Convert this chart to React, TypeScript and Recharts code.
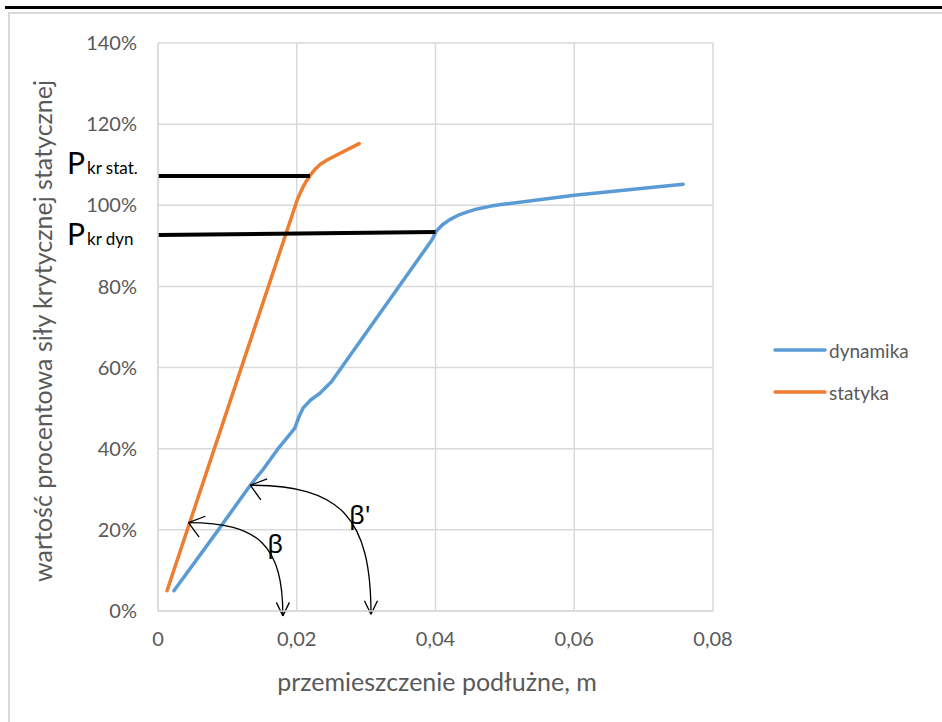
import {
  CartesianGrid,
  Label,
  Legend,
  Line,
  LineChart,
  ReferenceDot,
  ReferenceLine,
  XAxis,
  YAxis,
} from 'recharts'

// przemieszczenie [m] / wartość procentowa [%]
const dynamikaX = [
  0.0023, 0.0087, 0.0133, 0.0152, 0.0173, 0.0185, 0.0197, 0.0203, 0.0209, 0.022, 0.0233, 0.025,
  0.0395, 0.0401, 0.041, 0.042, 0.0432, 0.0445, 0.046, 0.048, 0.05, 0.06, 0.0757,
]
const dynamikaY = [
  5, 20, 31, 35, 40, 42.5, 45, 47.8, 50, 52, 53.6, 56.5,
  91.5, 93.6, 95.2, 96.4, 97.5, 98.3, 99.1, 99.8, 100.3, 102.5, 105.2,
]

const statykaX = [0.0013, 0.0201, 0.0205, 0.0209, 0.0214, 0.0219, 0.0226, 0.0234, 0.0245, 0.029]
const statykaY = [5, 101.5, 103, 104.5, 106, 107.3, 108.8, 110.1, 111.3, 115.2]

const xTicks = [0, 0.02, 0.04, 0.06, 0.08]
const yTicks = [0, 20, 40, 60, 80, 100, 120, 140]

const seriesNames = ['dynamika', 'statyka']
const seriesColors = ['#5B9BD5', '#ED7D31']

// poziome linie P_kr: [x0, y0, x1, y1]
const critLabels = ['kr stat.', 'kr dyn']
const critSegments = [
  [0, 107.2, 0.0219, 107.2],
  [0, 92.7, 0.04, 93.4],
]
const critTextDy = [-2, 10]

// łuki kątów: start (na krzywej) -> koniec (na osi x)
const arcSegments = [
  [0.0044, 21.8, 0.018, -1.2],
  [0.0133, 31, 0.0307, -0.8],
]
const angleLabels = ['β', "β'"]
const angleLabelX = [0.0169, 0.0291]
const angleLabelY = [16.8, 23.9]

const dynamikaData = dynamikaX.map((x, i) => ({ x, y: dynamikaY[i] }))
const statykaData = statykaX.map((x, i) => ({ x, y: statykaY[i] }))
const seriesData = [dynamikaData, statykaData]

const FONT = 'Lato, "Noto Sans", sans-serif'
const GREY = '#595959'

const formatX = (v: number) => (v === 0 ? '0' : v.toFixed(2).replace('.', ','))

const critShape = (sub: string, dy: number) => (p: any) => (
  <g>
    <line x1={p.x1} y1={p.y1} x2={p.x2} y2={p.y2} stroke="#000" strokeWidth={4} />
    <text x={p.x1 - 91} y={p.y1 + dy} fontFamily={FONT} fill="#000">
      <tspan fontSize={30}>P</tspan>
      <tspan fontSize={17} dx={2}>{sub}</tspan>
    </text>
  </g>
)

const arm = (x: number, y: number, ang: number, len: number) =>
  `M${x},${y} L${x + len * Math.cos(ang)},${y + len * Math.sin(ang)}`

const arcShape = (p: any) => {
  const { x1, y1, x2, y2 } = p
  const rx = x2 - x1
  const ry = y2 - y1
  const k = 0.75
  const d = `M${x1},${y1} C${x1 + k * rx},${y1} ${x2},${y2 - k * ry} ${x2},${y2}`
  const a0 = Math.atan2(0.3, 1)
  const a1 = -Math.PI / 2
  const heads = [
    arm(x1, y1, a0 - 0.65, 18),
    arm(x1, y1, a0 + 0.65, 18),
    arm(x2, y2, a1 - 0.45, 15),
    arm(x2, y2, a1 + 0.45, 15),
  ].join(' ')
  return (
    <g fill="none" stroke="#000" strokeWidth={1.3}>
      <path d={d} />
      <path d={heads} />
    </g>
  )
}

const angleShape = (text: string) => (p: any) => (
  <text
    x={p.cx}
    y={p.cy}
    textAnchor="middle"
    dominantBaseline="central"
    fontFamily='"Noto Sans", "DejaVu Sans", sans-serif'
    fontSize={26}
    fill="#000"
  >
    {text}
  </text>
)

function LegendBox({ payload }: any) {
  return (
    <div>
      {(payload ?? []).map((e: any) => (
        <div key={e.value} style={{ display: 'flex', alignItems: 'center', height: 42 }}>
          <svg width={54} height={8}>
            <line x1={2} y1={4} x2={52} y2={4} stroke={e.color} strokeWidth={3.5} strokeLinecap="round" />
          </svg>
          <span style={{ marginLeft: 2, fontSize: 19, color: GREY, fontFamily: FONT }}>{e.value}</span>
        </div>
      ))}
    </div>
  )
}

export default function App() {
  return (
    <div style={{ position: 'absolute', left: 0, top: 0, width: 942, height: 722, background: '#fff', overflow: 'hidden' }}>
      <div style={{ position: 'absolute', left: 5, right: 0, top: 6, height: 3, background: '#000' }} />
      <div
        style={{
          position: 'absolute',
          left: 8,
          top: 12,
          width: 960,
          height: 740,
          border: '2px solid #d9d9d9',
        }}
      />
      <div style={{ position: 'absolute', left: 0, top: 0 }}>
        <LineChart width={942} height={722} margin={{ top: 43, right: 229, bottom: 0, left: 0 }}>
          <CartesianGrid stroke="#d9d9d9" strokeWidth={1.5} />
          <XAxis
            type="number"
            dataKey="x"
            domain={[0, 0.08]}
            ticks={xTicks}
            tickFormatter={formatX}
            height={111}
            tickSize={0}
            tickMargin={21}
            axisLine={{ stroke: '#d9d9d9', strokeWidth: 1.5 }}
            tick={{ fill: GREY, fontSize: 20, fontFamily: FONT }}
            allowDataOverflow
          >
            <Label
              content={() => (
                <text x={437} y={691} textAnchor="middle" fill={GREY} fontSize={25} fontFamily={FONT}>
                  przemieszczenie podłużne, m
                </text>
              )}
            />
          </XAxis>
          <YAxis
            type="number"
            domain={[0, 140]}
            ticks={yTicks}
            tickFormatter={(v: number) => `${v}%`}
            width={158}
            tickSize={0}
            tickMargin={21}
            axisLine={{ stroke: '#d9d9d9', strokeWidth: 1.5 }}
            tick={{ fill: GREY, fontSize: 20, fontFamily: FONT }}
            allowDataOverflow
          >
            <Label
              content={() => (
                <text
                  x={42}
                  y={331}
                  transform="rotate(-90, 42, 331)"
                  textAnchor="middle"
                  dominantBaseline="central"
                  fill={GREY}
                  fontSize={25}
                  fontFamily={FONT}
                >
                  wartość procentowa siły krytycznej statycznej
                </text>
              )}
            />
          </YAxis>
          {seriesNames.map((name, i) => (
            <Line
              key={name}
              name={name}
              data={seriesData[i]}
              dataKey="y"
              type="linear"
              stroke={seriesColors[i]}
              strokeWidth={3.5}
              strokeLinecap="round"
              strokeLinejoin="round"
              dot={false}
              activeDot={false}
              isAnimationActive={false}
            />
          ))}
          {critSegments.map((s, i) => (
            <ReferenceLine
              key={critLabels[i]}
              segment={[
                { x: s[0], y: s[1] },
                { x: s[2], y: s[3] },
              ]}
              ifOverflow="visible"
              shape={critShape(critLabels[i], critTextDy[i])}
            />
          ))}
          {arcSegments.map((s, i) => (
            <ReferenceLine
              key={'arc' + i}
              segment={[
                { x: s[0], y: s[1] },
                { x: s[2], y: s[3] },
              ]}
              ifOverflow="visible"
              shape={arcShape}
            />
          ))}
          {angleLabels.map((t, i) => (
            <ReferenceDot
              key={t}
              x={angleLabelX[i]}
              y={angleLabelY[i]}
              r={0}
              ifOverflow="visible"
              shape={angleShape(t)}
            />
          ))}
          <Legend
            layout="vertical"
            align="center"
            verticalAlign="middle"
            content={<LegendBox />}
            wrapperStyle={{ position: 'absolute', left: 773, top: 329, width: 160, right: 'auto', bottom: 'auto' }}
          />
        </LineChart>
      </div>
    </div>
  )
}
